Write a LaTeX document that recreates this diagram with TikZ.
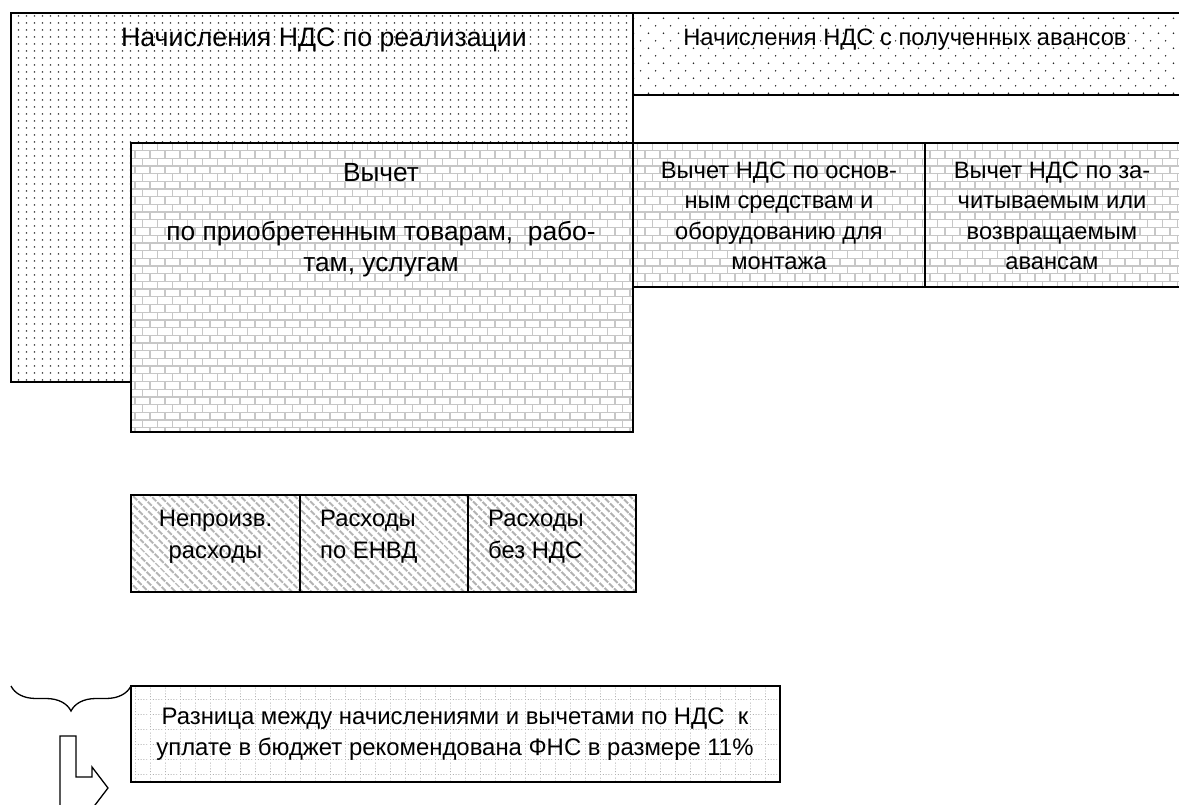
\documentclass[tikz,border=0pt]{standalone}
\usepackage{fontspec}
\setmainfont{Liberation Sans}
\usetikzlibrary{patterns,patterns.meta,decorations.pathreplacing}

% dense square grid of dots
\pgfdeclarepatternformonly{finedots}{\pgfqpoint{0pt}{0pt}}{\pgfqpoint{7.5pt}{6.5pt}}{\pgfqpoint{7.5pt}{6.5pt}}%
{\pgfpathcircle{\pgfqpoint{3.75pt}{3.25pt}}{0.85pt}\pgfusepath{fill}}

% sparse staggered dots
\pgfdeclarepatternformonly{sparsedots}{\pgfqpoint{0pt}{0pt}}{\pgfqpoint{15pt}{15.4pt}}{\pgfqpoint{15pt}{15.4pt}}%
{\pgfpathcircle{\pgfqpoint{3.75pt}{3.85pt}}{0.85pt}%
 \pgfpathcircle{\pgfqpoint{11.25pt}{11.55pt}}{0.85pt}\pgfusepath{fill}}

% brick wall
\pgfdeclarepatternformonly{brickwall}{\pgfqpoint{-1pt}{-1pt}}{\pgfqpoint{16pt}{16.4pt}}{\pgfqpoint{15pt}{15.4pt}}%
{\pgfsetlinewidth{1.3pt}%
 \pgfpathmoveto{\pgfqpoint{0pt}{0pt}}\pgfpathlineto{\pgfqpoint{15pt}{0pt}}%
 \pgfpathmoveto{\pgfqpoint{0pt}{7.7pt}}\pgfpathlineto{\pgfqpoint{15pt}{7.7pt}}%
 \pgfpathmoveto{\pgfqpoint{0pt}{0pt}}\pgfpathlineto{\pgfqpoint{0pt}{7.7pt}}%
 \pgfpathmoveto{\pgfqpoint{7.5pt}{7.7pt}}\pgfpathlineto{\pgfqpoint{7.5pt}{15.4pt}}%
 \pgfusepath{stroke}}

% dotted grid
\pgfdeclarepatternformonly{dotgrid}{\pgfqpoint{0pt}{0pt}}{\pgfqpoint{15pt}{15pt}}{\pgfqpoint{15pt}{15pt}}%
{\pgfpathrectangle{\pgfqpoint{0pt}{0pt}}{\pgfqpoint{1pt}{1pt}}%
 \pgfpathrectangle{\pgfqpoint{3pt}{0pt}}{\pgfqpoint{1pt}{1pt}}%
 \pgfpathrectangle{\pgfqpoint{6pt}{0pt}}{\pgfqpoint{1pt}{1pt}}%
 \pgfpathrectangle{\pgfqpoint{9pt}{0pt}}{\pgfqpoint{1pt}{1pt}}%
 \pgfpathrectangle{\pgfqpoint{12pt}{0pt}}{\pgfqpoint{1pt}{1pt}}%
 \pgfpathrectangle{\pgfqpoint{0pt}{3pt}}{\pgfqpoint{1pt}{1pt}}%
 \pgfpathrectangle{\pgfqpoint{0pt}{6pt}}{\pgfqpoint{1pt}{1pt}}%
 \pgfpathrectangle{\pgfqpoint{0pt}{9pt}}{\pgfqpoint{1pt}{1pt}}%
 \pgfpathrectangle{\pgfqpoint{0pt}{12pt}}{\pgfqpoint{1pt}{1pt}}%
 \pgfusepath{fill}}

\tikzset{
  box/.style={draw, line width=1.5pt, inner sep=0pt, outer sep=0pt, anchor=north west},
  dotbox/.style={box, preaction={fill=white}, preaction={pattern=finedots, pattern color=black!85}},
  sparsebox/.style={box, preaction={fill=white}, preaction={pattern=sparsedots, pattern color=black!85}},
  brickbox/.style={box, preaction={fill=white}, preaction={pattern=brickwall, pattern color=black!22}},
  hatchbox/.style={box, line width=1.3pt, preaction={fill=white},
    preaction={pattern={Lines[angle=-45,distance=6.4pt,line width=2.2pt]}, pattern color=black!30}},
  gridbox/.style={box, preaction={fill=white}, preaction={pattern=dotgrid, pattern color=black!30}},
  txt/.style={inner sep=0pt, align=center},
  realfont/.style={txt, font=\fontsize{26.7}{30}\selectfont},
  advfont/.style={txt, font=\fontsize{23.7}{30}\selectfont},
  vychfont/.style={txt, font=\fontsize{26.3}{31}\selectfont},
  rightfont/.style={txt, font=\fontsize{23.7}{30.5}\selectfont},
  cellfont/.style={txt, font=\fontsize{23.8}{32}\selectfont},
  resfont/.style={txt, font=\fontsize{23.9}{31}\selectfont},
  link/.style={line width=1.3pt},
}

\begin{document}
\begin{tikzpicture}[x=1pt,y=-1pt]
\begin{scope}
\clip (0,0) rectangle (1179,805);

% accruals
\node[dotbox, minimum width=622pt, minimum height=369pt] (real) at (11,13) {};
\node[sparsebox, minimum width=560pt, minimum height=82pt] (adv) at (633,13) {};
\node[realfont] (realtxt) at (324,40) {Начисления НДС по реализации};
\node[advfont] (advtxt) at (905,40) {Начисления НДС с полученных авансов};

% deductions
\node[brickbox, minimum width=502pt, minimum height=289pt] (vych) at (131,143) {};
\node[brickbox, minimum width=292pt, minimum height=144pt] (os) at (633,143) {};
\node[brickbox, minimum width=270pt, minimum height=144pt] (zach) at (925,143) {};
\node[vychfont] (vychtxt) at (381,220) {Вычет\\[28pt]по приобретенным товарам,\ \ рабо-\\там, услугам};
\node[rightfont] (ostxt) at (779,216) {Вычет НДС по основ-\\ным средствам и\\оборудованию для\\монтажа};
\node[rightfont] (zachtxt) at (1052,216) {Вычет НДС по за-\\читываемым или\\возвращаемым\\авансам};

% expenses without VAT
\node[hatchbox, minimum width=169pt, minimum height=97pt] (h1) at (131,495) {};
\node[hatchbox, minimum width=168pt, minimum height=97pt] (h2) at (300,495) {};
\node[hatchbox, minimum width=168pt, minimum height=97pt] (h3) at (468,495) {};
\node[cellfont] (h1txt) at (215.5,537) {Непроизв.\\расходы};
\node[cellfont, align=left, anchor=west] (h2txt) at (320,537) {Расходы\\по ЕНВД};
\node[cellfont, align=left, anchor=west] (h3txt) at (488,537) {Расходы\\без НДС};

% result
\node[gridbox, minimum width=649pt, minimum height=96pt] (res) at (131,686) {};
\node[resfont] (restxt) at (455,734) {Разница между начислениями и вычетами по НДС\ \ к\\уплате в бюджет рекомендована ФНС в размере 11\%};

% brace and turn arrow
\coordinate (braceL) at (11,686);
\draw[link, decorate, decoration={brace, amplitude=25pt, mirror}] (braceL) -- (res.north west);
\draw[link, fill=white] (60,736) -- (76,736) -- (76,777) -- (92,777) -- (92,767) -- (108,788)
  -- (92,809) -- (92,830) -- (60,830) -- cycle;
\end{scope}
\pgfresetboundingbox
\path[use as bounding box] (0,0) rectangle (1179,805);
\end{tikzpicture}
\end{document}
